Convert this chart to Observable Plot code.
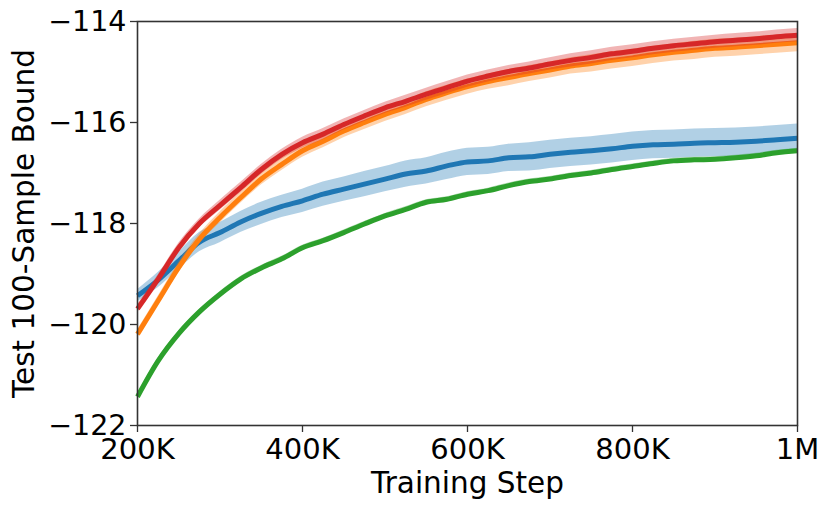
<!DOCTYPE html>
<html>
<head>
<meta charset="utf-8">
<script src="https://cdn.jsdelivr.net/npm/d3@7"></script>
<script src="https://cdn.jsdelivr.net/npm/@observablehq/plot@0.6"></script>
<style>
  html, body { margin: 0; padding: 0; background: #fff; }
</style>
</head>
<body>
<div id="chart"></div>
<script>
const steps = [200000,225000,250000,275000,300000,325000,350000,375000,400000,425000,450000,475000,500000,525000,550000,575000,600000,625000,650000,675000,700000,725000,750000,775000,800000,825000,850000,875000,900000,925000,950000,975000,1000000];

const seriesNames = ["blue", "orange", "green", "red"];
const seriesColors = ["#1f77b4", "#ff7f0e", "#2ca02c", "#d62728"];

const blueMean = [-119.43,-119.12,-118.74,-118.37,-118.18,-117.97,-117.80,-117.66,-117.55,-117.42,-117.32,-117.22,-117.12,-117.02,-116.96,-116.86,-116.78,-116.76,-116.70,-116.68,-116.63,-116.59,-116.56,-116.52,-116.47,-116.44,-116.43,-116.41,-116.40,-116.39,-116.37,-116.34,-116.31];
const orangeMean = [-120.19,-119.53,-118.87,-118.31,-117.88,-117.49,-117.12,-116.83,-116.56,-116.37,-116.17,-116.00,-115.84,-115.70,-115.54,-115.41,-115.29,-115.19,-115.11,-115.03,-114.96,-114.88,-114.83,-114.77,-114.72,-114.66,-114.61,-114.57,-114.53,-114.51,-114.48,-114.45,-114.42];
const greenMean = [-121.43,-120.72,-120.18,-119.75,-119.40,-119.10,-118.88,-118.70,-118.48,-118.34,-118.18,-118.01,-117.85,-117.72,-117.58,-117.52,-117.42,-117.35,-117.25,-117.17,-117.12,-117.05,-117.00,-116.93,-116.87,-116.81,-116.76,-116.74,-116.73,-116.70,-116.66,-116.60,-116.56];
const redMean = [-119.69,-119.10,-118.48,-118.00,-117.64,-117.29,-116.93,-116.63,-116.40,-116.23,-116.04,-115.87,-115.71,-115.58,-115.44,-115.31,-115.18,-115.08,-114.99,-114.92,-114.84,-114.77,-114.71,-114.64,-114.59,-114.53,-114.48,-114.44,-114.40,-114.37,-114.34,-114.30,-114.27];

const blueSpread = [0.12,0.15,0.17,0.19,0.20,0.21,0.22,0.22,0.23,0.24,0.24,0.25,0.25,0.26,0.26,0.27,0.27,0.27,0.27,0.28,0.28,0.28,0.28,0.28,0.28,0.28,0.28,0.28,0.28,0.28,0.28,0.28,0.28];
const orangeSpread = [0.08,0.09,0.10,0.10,0.11,0.11,0.12,0.12,0.13,0.13,0.13,0.14,0.14,0.14,0.15,0.15,0.15,0.15,0.16,0.16,0.16,0.16,0.17,0.17,0.17,0.17,0.17,0.18,0.18,0.18,0.18,0.18,0.18];
const greenSpread = [0.05,0.05,0.05,0.05,0.05,0.05,0.05,0.05,0.05,0.05,0.05,0.05,0.05,0.05,0.05,0.05,0.05,0.05,0.05,0.05,0.05,0.05,0.05,0.05,0.05,0.05,0.05,0.05,0.05,0.05,0.05,0.05,0.05];
const redSpread = [0.08,0.08,0.09,0.09,0.10,0.10,0.10,0.10,0.11,0.11,0.11,0.11,0.11,0.12,0.12,0.12,0.12,0.12,0.12,0.12,0.12,0.13,0.13,0.13,0.13,0.13,0.13,0.13,0.13,0.13,0.13,0.13,0.13];

const xTicks = [200000, 400000, 600000, 800000, 1000000];
const xTickLabels = ["200K", "400K", "600K", "800K", "1M"];
const yTicks = [-122, -120, -118, -116, -114];
const yTickLabels = ["\u2212122", "\u2212120", "\u2212118", "\u2212116", "\u2212114"];

const xLabel = "Training Step";
const yLabel = "Test 100-Sample Bound";

const means = [blueMean, orangeMean, greenMean, redMean];
const spreads = [blueSpread, orangeSpread, greenSpread, redSpread];

const rows = [];
seriesNames.forEach((name, s) => {
  steps.forEach((step, i) => {
    rows.push({series: name, step, y: means[s][i], lo: means[s][i] - spreads[s][i], hi: means[s][i] + spreads[s][i]});
  });
});

const marks = [];
seriesNames.forEach((name, s) => {
  const d = rows.filter(r => r.series === name);
  marks.push(Plot.areaY(d, {x: "step", y1: "lo", y2: "hi", fill: seriesColors[s], fillOpacity: 0.35, curve: "monotone-x"}));
  marks.push(Plot.line(d, {x: "step", y: "y", stroke: seriesColors[s], strokeWidth: 5, strokeLinejoin: "round", strokeLinecap: "butt", curve: "monotone-x"}));
});

const FONT = "DejaVu Sans";
const chart = Plot.plot({
  width: 831,
  height: 509,
  marginLeft: 137,
  marginRight: 34,
  marginTop: 21,
  marginBottom: 84,
  style: {fontFamily: FONT, fontSize: "29px", background: "#fff", color: "#000"},
  x: {domain: [200000, 1000000]},
  y: {domain: [-122, -114]},
  marks: [
    ...marks,
    Plot.frame({stroke: "#333", strokeWidth: 1.6}),
    Plot.axisX({ticks: xTicks, tickFormat: (d) => xTickLabels[xTicks.indexOf(d)], tickSize: 7, tickPadding: 6, fontSize: 29, label: null, stroke: "#333", strokeWidth: 1.3, fill: "#000"}),
    Plot.axisY({ticks: yTicks, tickFormat: (d) => yTickLabels[yTicks.indexOf(d)], tickSize: 7, tickPadding: 4, fontSize: 28.5, label: null, stroke: "#333", strokeWidth: 1.3, fill: "#000"}),
    Plot.text([xLabel], {frameAnchor: "bottom", dy: 67, lineAnchor: "bottom", textAnchor: "middle", text: d => d, fontSize: 29.5, fill: "#000"}),
    Plot.text([yLabel], {frameAnchor: "left", dx: -104, rotate: -90, lineAnchor: "bottom", textAnchor: "middle", text: d => d, fontSize: 29.5, fill: "#000"})
  ]
});
document.getElementById("chart").appendChild(chart);
</script>
</body>
</html>
